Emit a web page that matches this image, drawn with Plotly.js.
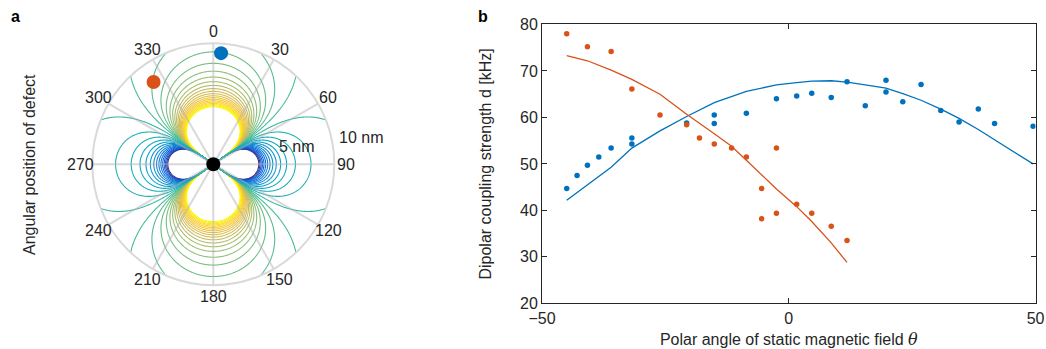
<!DOCTYPE html>
<html>
<head>
<meta charset="utf-8">
<script src="https://cdn.plot.ly/plotly-3.0.1.min.js"></script>
<style>
html,body{margin:0;padding:0;background:#fff;}
#chart{width:1046px;height:349px;}
</style>
</head>
<body>
<div id="chart"></div>
<script>
// ---------- Panel a: dipolar coupling map (polar) ----------
const mapRadiusNm = 10;                 // outer circle of the polar plot
const gridSteps = 400;                  // sampling of the map
const positiveLevels = [0.6, 18.65, 0.95];  // first level, last level, step (×1e-3 nm^-3)
const negativeLevels = [-18.8, -0.6, 1.3];  // first level, last level, step
const colourLimits = [-19, 19];
const angleTicks = [0, 30, 60, 90, 120, 150, 180, 210, 240, 270, 300, 330];
const angleTickText = ['0', '30', '60', '90', '120', '150', '180', '210', '240', '270', '300', '330'];
const defectR = [9.2, 8.4];             // nm
const defectTheta = [4, 324];           // degrees
const radialLabels = ['5 nm', '10 nm'];

// ---------- Panel b: coupling vs field angle ----------
const blueX = [-45, -42.9, -40.8, -38.5, -36.0, -31.8, -31.8, -20.7, -15.1, -15.1, -8.6, -2.5, 1.6, 4.65, 8.6, 11.8, 15.5, 19.7, 19.7, 23.1, 26.8, 30.8, 34.5, 38.4, 41.7, 49.5];
const blueY = [44.7, 47.5, 49.7, 51.5, 53.4, 54.3, 55.6, 58.8, 60.5, 58.7, 60.9, 64.0, 64.6, 65.2, 64.3, 67.7, 62.5, 68.0, 65.5, 63.4, 67.1, 61.5, 59.0, 61.8, 58.7, 58.1];
const orangeX = [-45, -40.8, -36.0, -31.8, -26.1, -20.7, -18.1, -15.1, -11.6, -8.6, -5.5, -5.5, -2.5, -2.5, 1.6, 4.65, 8.6, 11.8];
const orangeY = [78.0, 75.2, 74.2, 66.1, 60.5, 58.4, 55.6, 54.3, 53.4, 51.5, 44.7, 38.2, 53.4, 39.4, 41.3, 39.4, 36.6, 33.5];
const blueFitX = [-45, -42.9, -40.8, -38.5, -36.0, -31.8, -26.1, -20.7, -15.1, -8.6, -2.5, 1.6, 4.65, 8.6, 11.8, 15.5, 19.7, 23.1, 26.8, 30.8, 34.5, 38.4, 41.7, 49.5];
const blueFitY = [42.2, 43.9, 45.5, 47.3, 49.3, 53.4, 57.1, 60.2, 63.2, 65.6, 67.0, 67.5, 67.8, 67.9, 67.6, 67.0, 66.3, 65.1, 63.7, 61.8, 59.8, 57.4, 55.2, 50.0];
const orangeFitX = [-45, -40.8, -36.0, -31.8, -26.1, -20.7, -15.1, -11.6, -8.6, -5.5, -2.5, 1.6, 4.65, 8.6, 11.8];
const orangeFitY = [73.3, 72.2, 70.2, 68.2, 65.0, 60.7, 56.5, 53.8, 50.8, 47.6, 44.6, 40.8, 37.6, 33.0, 28.8];
const xTicks = [-50, 0, 50];
const yTicks = [20, 30, 40, 50, 60, 70, 80];

// dipolar coupling map, field along the 0° direction
const gx = [], gy = [], gz = [];
for (let i = 0; i <= gridSteps; i++) gx.push(-mapRadiusNm + 2 * mapRadiusNm * i / gridSteps);
for (let j = 0; j <= gridSteps; j++) gy.push(-mapRadiusNm + 2 * mapRadiusNm * j / gridSteps);
for (let j = 0; j <= gridSteps; j++) {
  const row = [];
  for (let i = 0; i <= gridSteps; i++) {
    const r = Math.hypot(gx[i], gy[j]);
    if (r > mapRadiusNm || r < 1e-6) { row.push(null); continue; }
    const c = gy[j] / r;
    row.push(1000 * (3 * c * c - 1) / (r * r * r));
  }
  gz.push(row);
}

// parula colour map
const parulaStops = [0, 0.125, 0.25, 0.375, 0.5, 0.625, 0.75, 0.875, 1];
const parulaRGB = [[53,42,135],[3,99,225],[20,133,212],[6,167,198],[56,185,158],[146,191,115],[217,186,86],[252,206,46],[249,251,14]];
function parula(t) {
  t = Math.max(0, Math.min(1, t));
  let k = 0;
  while (k < parulaStops.length - 2 && t > parulaStops[k + 1]) k++;
  const f = (t - parulaStops[k]) / (parulaStops[k + 1] - parulaStops[k]);
  const a = parulaRGB[k], b = parulaRGB[k + 1];
  return 'rgb(' + a.map((v, n) => Math.round(v + f * (b[n] - v))).join(',') + ')';
}
// colourscale of one contour trace: position 0..1 spans its first..last level
function levelScale(lv) {
  const out = [];
  const K = 24;
  for (let k = 0; k <= K; k++) {
    const v = lv[0] + (lv[1] - lv[0]) * k / K;
    out.push([k / K, parula((v - colourLimits[0]) / (colourLimits[1] - colourLimits[0]))]);
  }
  return out;
}

const FONT = 'Liberation Sans, Arial, sans-serif';
const INK = '#262626';
const BLUE = '#0072BD', ORANGE = '#D95319';
const W = 1046, H = 349;

function contourTrace(lv) {
  return {
    type: 'contour', x: gx, y: gy, z: gz, xaxis: 'x', yaxis: 'y',
    autocontour: false, contours: {start: lv[0], end: lv[1], size: lv[2], coloring: 'lines', showlabels: false},
    colorscale: levelScale(lv),
    line: {width: 1.1, smoothing: 0}, showscale: false, connectgaps: false, hoverinfo: 'skip'
  };
}

const traces = [
  contourTrace(positiveLevels),
  contourTrace(negativeLevels),
  {type: 'scatterpolar', subplot: 'polar', r: [0], theta: [0], mode: 'markers',
   marker: {color: '#000000', size: 14}, hoverinfo: 'skip', showlegend: false},
  {type: 'scatterpolar', subplot: 'polar', r: [defectR[0]], theta: [defectTheta[0]], mode: 'markers',
   marker: {color: BLUE, size: 14}, showlegend: false},
  {type: 'scatterpolar', subplot: 'polar', r: [defectR[1]], theta: [defectTheta[1]], mode: 'markers',
   marker: {color: ORANGE, size: 14}, showlegend: false},
  {type: 'scatter', x: blueFitX, y: blueFitY, xaxis: 'x2', yaxis: 'y2', mode: 'lines',
   line: {color: BLUE, width: 1.3}, showlegend: false},
  {type: 'scatter', x: orangeFitX, y: orangeFitY, xaxis: 'x2', yaxis: 'y2', mode: 'lines',
   line: {color: ORANGE, width: 1.3}, showlegend: false},
  {type: 'scatter', x: blueX, y: blueY, xaxis: 'x2', yaxis: 'y2', mode: 'markers',
   marker: {color: BLUE, size: 5.5}, showlegend: false},
  {type: 'scatter', x: orangeX, y: orangeY, xaxis: 'x2', yaxis: 'y2', mode: 'markers',
   marker: {color: ORANGE, size: 5.5}, showlegend: false}
];

const polarDomX = [0.08824, 0.31960], polarDomY = [0.1828, 0.8762];

// angle labels around the polar circle (placed just outside the outer ring)
const centreX = (polarDomX[0] + polarDomX[1]) / 2 * W;
const centreY = (1 - (polarDomY[0] + polarDomY[1]) / 2) * H;
const labelRadiusPx = 132.6;
const angleLabelAnnotations = angleTicks.map((a, i) => {
  const rad = a * Math.PI / 180;
  return {
    text: angleTickText[i], xref: 'paper', yref: 'paper',
    x: (centreX + labelRadiusPx * Math.sin(rad)) / W,
    y: 1 - (centreY - labelRadiusPx * Math.cos(rad)) / H,
    xanchor: 'center', yanchor: 'middle', showarrow: false,
    font: {family: FONT, size: 16, color: INK}
  };
});

const layout = {
  width: W, height: H,
  margin: {l: 0, r: 0, t: 0, b: 0},
  paper_bgcolor: '#ffffff', plot_bgcolor: 'rgba(0,0,0,0)',
  font: {family: FONT, size: 16, color: INK},
  showlegend: false,
  xaxis: {domain: polarDomX, range: [-mapRadiusNm, mapRadiusNm], visible: false, fixedrange: true},
  yaxis: {domain: polarDomY, range: [-mapRadiusNm, mapRadiusNm], visible: false, fixedrange: true},
  polar: {
    domain: {x: polarDomX, y: polarDomY},
    bgcolor: 'rgba(0,0,0,0)',
    angularaxis: {
      rotation: 90, direction: 'clockwise', tickmode: 'array',
      tickvals: angleTicks, ticktext: angleTickText, ticks: '', showticklabels: false,
      showgrid: true, gridcolor: 'rgba(180,180,180,0.5)', gridwidth: 2,
      showline: true, linecolor: '#d9d9d9', linewidth: 2
    },
    radialaxis: {range: [0, mapRadiusNm], showgrid: false, showticklabels: false, showline: false, ticks: ''}
  },
  xaxis2: {
    domain: [0.5182, 0.99], anchor: 'y2', range: [-50, 50],
    tickmode: 'array', tickvals: xTicks, ticks: 'inside', ticklen: 5, tickcolor: INK,
    showline: true, linecolor: INK, linewidth: 1, mirror: 'ticks',
    showgrid: false, zeroline: false,
    tickfont: {family: FONT, size: 16, color: INK},
    title: {text: 'Polar angle of static magnetic field <span style="font-family:\'DejaVu Serif\'"><i>θ</i></span>', font: {family: FONT, size: 16, color: INK}, standoff: 14}
  },
  yaxis2: {
    domain: [0.1309, 0.9298], anchor: 'x2', range: [20, 80],
    tickmode: 'array', tickvals: yTicks, ticks: 'inside', ticklen: 5, tickcolor: INK,
    showline: true, linecolor: INK, linewidth: 1, mirror: 'ticks',
    showgrid: false, zeroline: false,
    tickfont: {family: FONT, size: 16, color: INK},
    title: {text: 'Dipolar coupling strength d [kHz]', font: {family: FONT, size: 16, color: INK}, standoff: 24}
  },
  annotations: [
    {text: '<b>a</b>', xref: 'paper', yref: 'paper', x: 15 / W, y: 1 - 16 / H, xanchor: 'center', yanchor: 'middle', showarrow: false, font: {family: FONT, size: 16, color: '#000'}},
    {text: '<b>b</b>', xref: 'paper', yref: 'paper', x: 483 / W, y: 1 - 16 / H, xanchor: 'center', yanchor: 'middle', showarrow: false, font: {family: FONT, size: 16, color: '#000'}},
    {text: 'Angular position of defect', xref: 'paper', yref: 'paper', x: 30 / W, y: 1 - 165 / H, textangle: -90, xanchor: 'center', yanchor: 'middle', showarrow: false, font: {family: FONT, size: 16, color: INK}},
    {text: radialLabels[0], xref: 'paper', yref: 'paper', x: 276.5 / W, y: 1 - 146.7 / H, xanchor: 'left', yanchor: 'middle', showarrow: false, font: {family: FONT, size: 16, color: INK}},
    {text: radialLabels[1], xref: 'paper', yref: 'paper', x: 336.5 / W, y: 1 - 137.7 / H, xanchor: 'left', yanchor: 'middle', showarrow: false, font: {family: FONT, size: 16, color: INK}}
  ].concat(angleLabelAnnotations)
};

Plotly.newPlot('chart', traces, layout, {displayModeBar: false, staticPlot: true});
</script>
</body>
</html>
